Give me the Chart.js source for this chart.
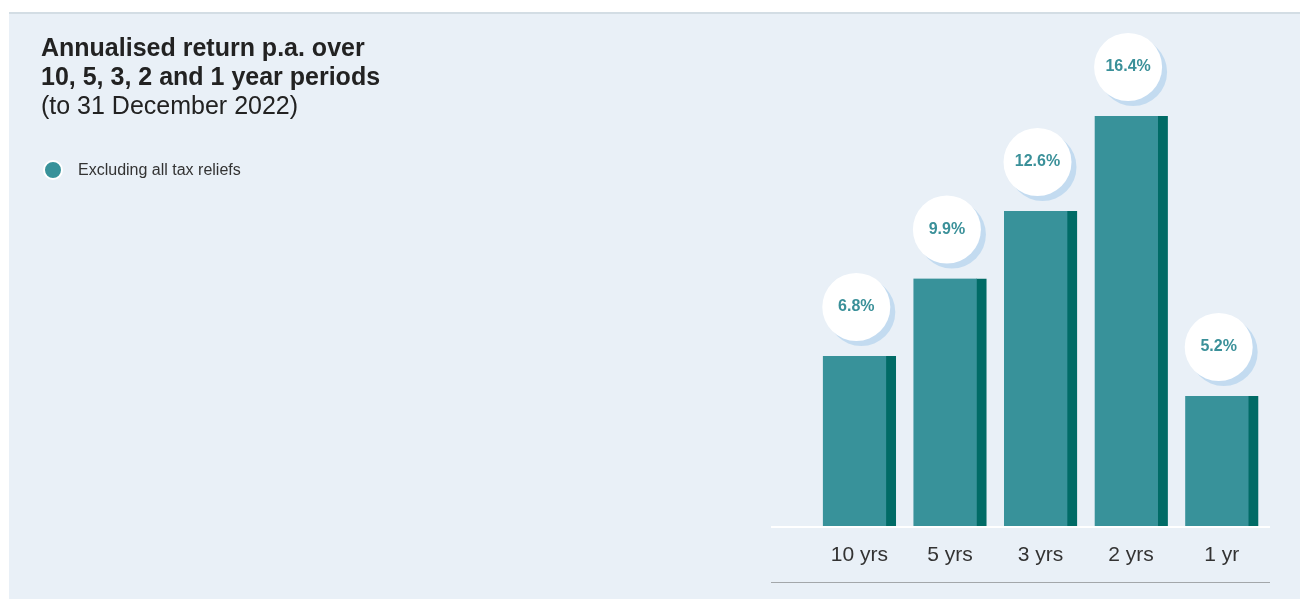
<!DOCTYPE html>
<html>
<head>
<meta charset="utf-8">
<script src="https://cdn.jsdelivr.net/npm/chart.js@4"></script>
<style>
	body { margin: 0; background: #ffffff; font-family: "Liberation Sans", Arial, sans-serif; }
	#panel { position: absolute; left: 9px; top: 12px; width: 1291px; height: 587px; background: #e9f0f7; border-top: 2px solid #d3dde4; box-sizing: border-box; }
	#title { position: absolute; left: 41px; top: 33px; color: #222222; font-size: 25px; line-height: 29px; }
	#title b { font-weight: bold; }
	#legend { position: absolute; left: 43px; top: 160px; display: flex; align-items: center; font-size: 16px; color: #333333; }
	#legend span.dot { width: 16px; height: 16px; border-radius: 50%; background: #38929a; border: 2px solid #ffffff; margin-right: 15px; }
	#wrap { position: absolute; left: 0; top: 0; width: 1300px; height: 599px; }
</style>
</head>
<body>
<div id="panel"></div>
<div id="wrap"><canvas id="returns"></canvas></div>
<div id="title"><b>Annualised return p.a. over<br>10, 5, 3, 2 and 1 year periods</b><br>(to 31 December 2022)</div>
<div id="legend"><span class="dot"></span>Excluding all tax reliefs</div>
<script>
// Chart data
const periods = ['10 yrs', '5 yrs', '3 yrs', '2 yrs', '1 yr'];
const returnValues = [6.8, 9.9, 12.6, 16.4, 5.2];
const seriesName = 'Excluding all tax reliefs';

// Baseline + bottom rule + bubble labels above each bar
const bubblePlugin = {
	id: 'bubbles',
	beforeDatasetsDraw(chart) {
		const ctx = chart.ctx;
		const area = chart.chartArea;
		const y0 = chart.scales.y.getPixelForValue(0);
		ctx.save();
		ctx.fillStyle = '#ffffff';
		ctx.fillRect(area.left - 43, y0, area.right - area.left + 46, 2);
		ctx.fillStyle = '#a3a7aa';
		ctx.fillRect(area.left - 43, y0 + 56, area.right - area.left + 46, 1);
		ctx.restore();
	},
	afterDatasetsDraw(chart) {
		const ctx = chart.ctx;
		const meta = chart.getDatasetMeta(0);
		ctx.save();
		meta.data.forEach((bar, i) => {
			const cx = bar.x - 3;
			const cy = bar.y - 49;
			ctx.beginPath();
			ctx.arc(cx + 5, cy + 5, 34, 0, Math.PI * 2);
			ctx.fillStyle = '#c3dbf0';
			ctx.fill();
			ctx.beginPath();
			ctx.arc(cx, cy, 34, 0, Math.PI * 2);
			ctx.fillStyle = '#ffffff';
			ctx.fill();
			ctx.fillStyle = '#3a9099';
			ctx.font = 'bold 16px "Liberation Sans", Arial, sans-serif';
			ctx.textAlign = 'center';
			ctx.textBaseline = 'middle';
			ctx.fillText(returnValues[i].toFixed(1) + '%', cx, cy);
		});
		ctx.restore();
	}
};

new Chart(document.getElementById('returns'), {
	type: 'bar',
	data: {
		labels: periods,
		datasets: [
			{
				label: seriesName,
				data: returnValues,
				backgroundColor: '#38929a',
				borderColor: '#006b66',
				borderWidth: { top: 0, right: 10, bottom: 0, left: 0 },
				borderSkipped: false,
				barThickness: 73
			}
		]
	},
	options: {
		responsive: true,
		maintainAspectRatio: false,
		animation: false,
		layout: { padding: { left: 814, right: 33, top: 26, bottom: 13 } },
		plugins: {
			legend: { display: false },
			tooltip: { enabled: false }
		},
		scales: {
			x: {
				grid: { display: false, drawTicks: false },
				border: { display: false },
				ticks: {
					color: '#333333',
					padding: 17,
					font: { family: '"Liberation Sans", Arial, sans-serif', size: 21 }
				},
				afterFit: (axis) => { axis.height = 60; }
			},
			y: {
				display: false,
				min: 0,
				max: 20
			}
		}
	},
	plugins: [ bubblePlugin ]
});
</script>
</body>
</html>
